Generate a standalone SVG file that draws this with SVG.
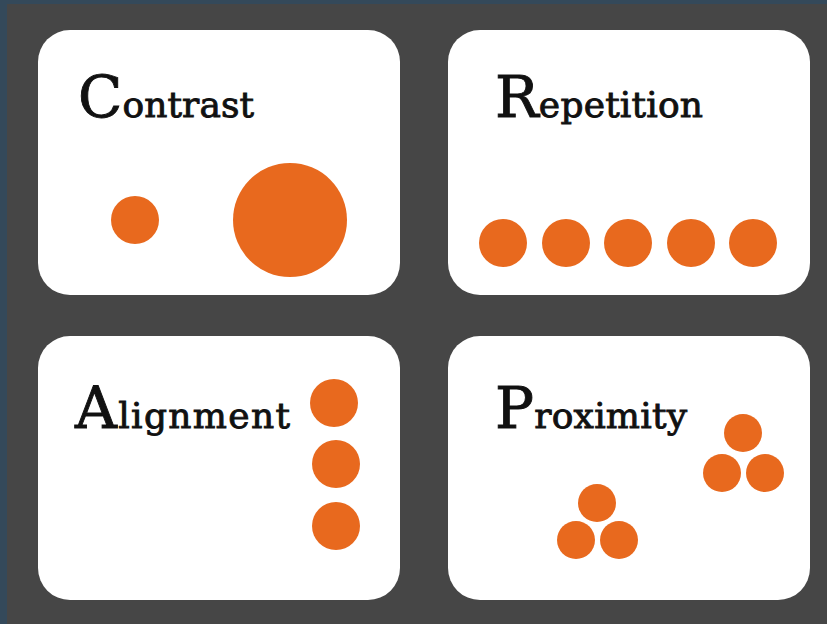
<svg xmlns="http://www.w3.org/2000/svg" width="827" height="624" viewBox="0 0 827 624">
<style>
.card{fill:#ffffff}
.dot{fill:#e8691e}
.t{font-family:"DejaVu Serif","Liberation Serif",serif;fill:#111111;stroke:#111111;stroke-width:0.9px}
.big{font-size:58px}
.sm{font-size:36px}
</style>
<rect x="0" y="0" width="827" height="624" fill="#464646"/>
<rect x="0" y="0" width="827" height="4" fill="#34495a"/>
<rect x="0" y="0" width="7" height="624" fill="#34495a"/>
<g id="contrast">
<rect class="card" x="38" y="30" width="362" height="265" rx="32"/>
<text class="t" x="78" y="117" textLength="176" lengthAdjust="spacing"><tspan class="big">C</tspan><tspan class="sm">ontrast</tspan></text>
<circle class="dot" cx="135" cy="220" r="24"/>
<circle class="dot" cx="290" cy="220" r="57"/>
</g>
<g id="repetition">
<rect class="card" x="448" y="30" width="362" height="265" rx="32"/>
<text class="t" x="495" y="117" textLength="208" lengthAdjust="spacing"><tspan class="big">R</tspan><tspan class="sm">epetition</tspan></text>
<circle class="dot" cx="503" cy="243" r="24"/>
<circle class="dot" cx="566" cy="243" r="24"/>
<circle class="dot" cx="628" cy="243" r="24"/>
<circle class="dot" cx="691" cy="243" r="24"/>
<circle class="dot" cx="753" cy="243" r="24"/>
</g>
<g id="alignment">
<rect class="card" x="38" y="336" width="362" height="264" rx="32"/>
<text class="t" x="75" y="428" textLength="215" lengthAdjust="spacing"><tspan class="big">A</tspan><tspan class="sm">lignment</tspan></text>
<circle class="dot" cx="334" cy="403" r="24"/>
<circle class="dot" cx="336" cy="464" r="24"/>
<circle class="dot" cx="336" cy="526" r="24"/>
</g>
<g id="proximity">
<rect class="card" x="448" y="336" width="362" height="264" rx="32"/>
<text class="t" x="495" y="428" textLength="192" lengthAdjust="spacing"><tspan class="big">P</tspan><tspan class="sm">roximity</tspan></text>
<circle class="dot" cx="743" cy="433" r="19"/>
<circle class="dot" cx="722" cy="473" r="19"/>
<circle class="dot" cx="765" cy="473" r="19"/>
<circle class="dot" cx="597" cy="503" r="19"/>
<circle class="dot" cx="576" cy="540" r="19"/>
<circle class="dot" cx="619" cy="540" r="19"/>
</g>
</svg>
